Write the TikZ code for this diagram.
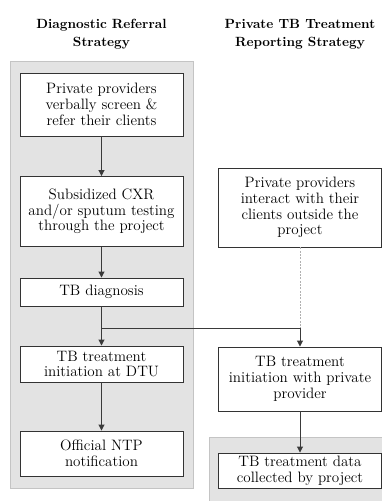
\documentclass[tikz,border=0pt]{standalone}
\usetikzlibrary{arrows.meta}
\definecolor{panelfill}{HTML}{E3E3E3}
\definecolor{paneldraw}{HTML}{C4C4C4}
\definecolor{boxline}{HTML}{333333}
\definecolor{arrline}{HTML}{3A3A3A}
\definecolor{dotline}{HTML}{B0B0B0}
\tikzset{
  panel/.style={fill=panelfill,draw=paneldraw,line width=0.6pt},
  flowbox/.style={draw=boxline,fill=white,line width=0.7pt,align=center,
    font=\fontsize{11.3}{11.8}\selectfont,inner sep=0pt,minimum width=163*0.75pt},
  title/.style={align=center,font=\fontsize{10}{13.5}\selectfont\bfseries},
  flowarrow/.style={draw=arrline,line width=0.7pt,-{Triangle[width=4.5pt,length=4.5pt]}},
  flowline/.style={draw=arrline,line width=0.7pt},
  dotconn/.style={draw=dotline,line width=0.7pt,dash pattern=on 1.5pt off 1pt}
}
\begin{document}
\begin{tikzpicture}[x=0.75pt,y=-0.75pt]
\useasboundingbox (0,0) rectangle (382,501);
% panels
\path[panel] (10,61) rectangle (193,488);
\path[panel] (209,437) rectangle (390,510);
% titles
\node[title] (t1) at (101.5,34) {Diagnostic Referral\\Strategy};
\node[title] (t2) at (300,34) {Private TB Treatment\\Reporting Strategy};
% left boxes
\node[flowbox,minimum height=63*0.75pt] (b1) at (101.5,104.5) {Private providers\\verbally screen \&\\refer their clients};
\node[flowbox,minimum height=70*0.75pt] (b2) at (101.5,211.5) {Subsidized CXR\\and/or sputum testing\\through the project};
\node[flowbox,minimum height=28*0.75pt] (b3) at (101.5,292) {TB diagnosis};
\node[flowbox,minimum height=36*0.75pt] (b4) at (101.5,364) {TB treatment\\initiation at DTU};
\node[flowbox,minimum height=45*0.75pt] (b5) at (101.5,453.5) {Official NTP\\notification};
% right boxes
\node[flowbox,minimum height=79*0.75pt] (r1) at (300,207.5) {Private providers\\interact with their\\clients outside the\\project};
\node[flowbox,minimum height=64*0.75pt] (r2) at (300,379) {TB treatment\\initiation with private\\provider};
\node[flowbox,minimum height=35*0.75pt] (r3) at (300,470.5) {TB treatment data\\collected by project};
% connectors
\coordinate (j1) at (101.5,328);
\coordinate (j2) at (300,328);
\draw[flowarrow] (b1) -- (b2);
\draw[flowarrow] (b2) -- (b3);
\draw[flowline] (b3) -- (j1);
\draw[flowarrow] (j1) -- (b4);
\draw[flowarrow] (b4) -- (b5);
\draw[dotconn] (r1.south) -- (j2);
\draw[flowline] (j1) -- (j2);
\draw[flowarrow] (j2) -- (r2);
\draw[flowarrow] (r2) -- (r3);
\end{tikzpicture}
\end{document}
